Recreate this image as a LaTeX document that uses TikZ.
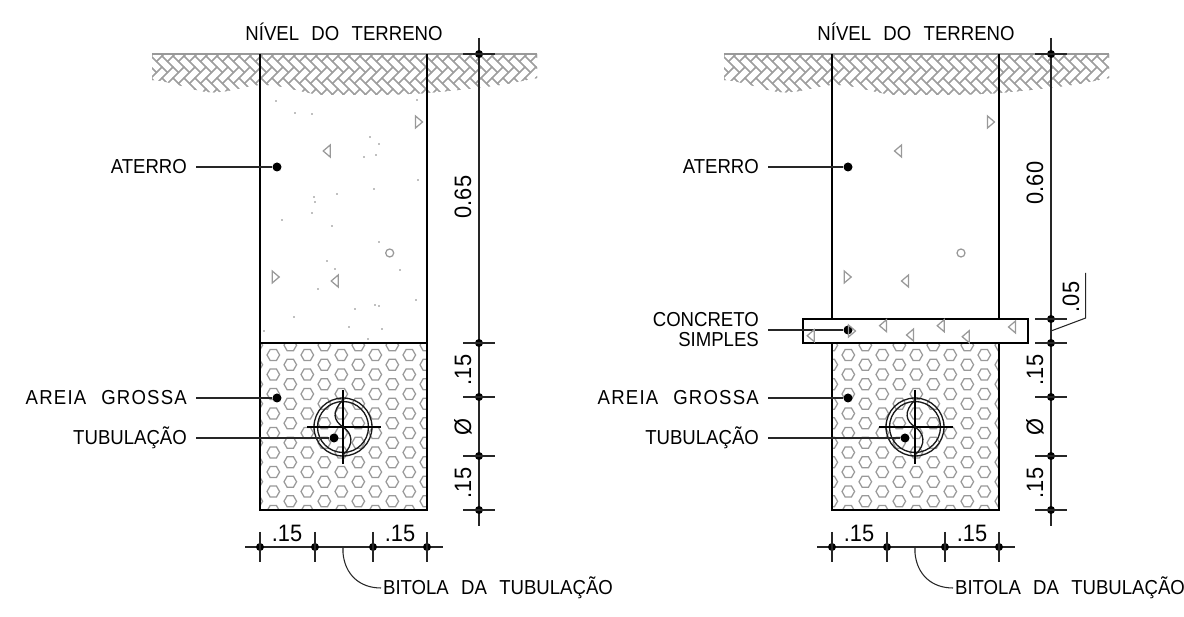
\documentclass[tikz,border=0pt]{standalone}
\usepackage{fontspec}
\setmainfont[FakeStretch=0.92]{Liberation Sans}
\usepackage{tikz}

\newcommand{\wgap}{\hspace{7pt}}
\newcommand{\areiatext}{\addfontfeatures{LetterSpace=6}AREIA\hspace{8.5pt}GROSSA}

\tikzset{
  wall/.style={line width=1.1pt,black},
  thin line/.style={line width=0.6pt,black!85},
  pipe line/.style={line width=0.75pt,black!90},
  fillmark/.style={line width=0.7pt,black!40},
  hatchmark/.style={line width=0.7pt,black!38},
  dotmark/.style={circle,fill=black,inner sep=0pt,minimum size=0.18cm},
  smalldot/.style={circle,fill=black,inner sep=0pt,minimum size=0.16cm},
  lbl/.style={inner xsep=5pt,inner ysep=0pt,font=\fontsize{11.5}{13}\selectfont},
  dimtext/.style={inner sep=0pt,font=\fontsize{13.5}{15}\selectfont},
}

% hatch of the ground, clipped by its wavy lower edge
\newcommand{\groundhatch}{
\begin{scope}
\clip (152,54) -- (152,80) .. controls (175,82) and (190,90) .. (207,92)
  .. controls (225,94) and (245,86) .. (260,85) .. controls (285,84) and (305,95) .. (327,95)
  .. controls (360,95) and (400,95) .. (427,93) .. controls (450,91) and (480,88) .. (500,85)
  .. controls (515,83) and (525,80) .. (537,78) -- (537,54) -- cycle;
\foreach \row in {0,...,4} {
\foreach \col in {0,...,38} {
  \pgfmathsetmacro\bx{140+11*\col}
  \pgfmathsetmacro\by{56+22*\row}
  \draw [hatchmark] (\bx,\by) -- ++(11,-11) -- ++(5.5,5.5) -- ++(-11,11) -- cycle;
  \draw [hatchmark] (\bx+5.5,\by+5.5) -- ++(5.5,-5.5) -- ++(11,11) -- ++(-5.5,5.5) -- cycle;
}}
\end{scope}
\draw [line width=0.9pt,black!40] (152,54) -- (537,54);
}

% hexagons of the sand bed
\newcommand{\sandhex}[1]{
\begin{scope}
\clip (260,343) rectangle (427,510);
\foreach \col in {0,...,10} {
\foreach \row in {0,...,8} {
  \pgfmathsetmacro\hx{256.3+#1+17*\col}
  \pgfmathsetmacro\hy{345.25+19.5*\row+9.75*mod(\col,2)}
  \draw [fillmark] (\hx-6.3,\hy) -- ++(3.1,-5.4) -- ++(6.4,0) -- ++(3.1,5.4) -- ++(-3.1,5.4) -- ++(-6.4,0) -- cycle;
}}
\end{scope}
}

% triangle of the fill, 1 points left and -1 points right
\newcommand{\filltri}[3]{
\draw [fillmark] (#1-3.5*#3,#2) -- ++(7*#3,-6) -- ++(0,12) -- cycle;
}

\newcommand{\pipe}{
\draw [pipe line] (343,427) circle [radius=29];
\draw [pipe line] (343,427) circle [radius=25.5];
\draw [wall] (307,427) -- (381,427);
\draw [wall] (343,390) -- (343,464);
\draw [pipe line] (343,400) .. controls (331,412) and (334,421) .. (343,427)
  .. controls (352,433) and (355,444) .. (343,455);
}

% dimension lines on the right and below
\newcommand{\dimbelow}{
\coordinate (bl) at (245,547);
\coordinate (br) at (443,547);
\draw [thin line] (bl) -- (br);
\foreach \nm/\tx in {ba/260,bb/315,bc/373,bd/427} {
  \node [smalldot] (\nm) at (\tx,547) {};
  \draw [thin line,line width=0.8pt] (\tx,532) -- (\tx,562);
}
\node [dimtext] (bwa) at (287,533) {.15};
\node [dimtext] (bwb) at (400,533) {.15};
\node [lbl,anchor=west,inner xsep=1pt] (bitola) at (381,588) {BITOLA\wgap DA\wgap TUBULAÇÃO};
\coordinate (bitstart) at (343,547);
\draw [thin line] (bitstart) -- (343,553) .. controls (345,575) and (360,588) .. (bitola.west);
}

\newcommand{\dimright}[1]{
\coordinate (dtop) at (479,38);
\coordinate (dend) at (479,526);
\draw [thin line] (dtop) -- (dend);
\foreach \nm/\ty in {#1} {
  \node [smalldot] (\nm) at (479,\ty) {};
  \draw [thin line,line width=0.8pt] (463,\ty) -- (495,\ty);
}
\node [dimtext,rotate=90] (dwa) at (463,370) {.15};
\node [dimtext,rotate=90] (dwb) at (463,427) {Ø};
\node [dimtext,rotate=90] (dwc) at (463,483) {.15};
}

\begin{document}
\begin{tikzpicture}[x=0.02cm,y=-0.02cm]
\useasboundingbox (0,0) rectangle (1184,617);
\fill [white] (0,0) rectangle (1184,617);

% left section
\groundhatch
\sandhex{0}
\draw [wall] (260,54) -- (260,510) -- (427,510) -- (427,54);
\draw [wall] (260,343) -- (427,343);
\pipe
\node [lbl] (nivel) at (344,32) {NÍVEL\wgap DO\wgap TERRENO};
\node [dotmark] (aterro) at (277,167) {};
\node [dotmark] (areia) at (277,398) {};
\node [dotmark] (tubo) at (334,438) {};
\node [lbl,anchor=east] (aterrotxt) at (196,167) {ATERRO};
\node [lbl,anchor=east] (areiatxt) at (196,398) {\areiatext};
\node [lbl,anchor=east] (tubotxt) at (196,438) {TUBULAÇÃO};
\draw [thin line] (aterrotxt) -- (aterro);
\draw [thin line] (areiatxt) -- (areia);
\draw [thin line] (tubotxt) -- (tubo);
\dimright{da/54,db/343,dc/397,dd/456,de/510}
\node [dimtext,rotate=90] (dwtop) at (463,197) {0.65};
\dimbelow
\filltri{326.7}{151}{1}
\filltri{419}{122}{-1}
\filltri{275.7}{277}{-1}
\filltri{334.7}{281}{1}
\draw [fillmark] (389.7,253) circle [radius=4];
\foreach \px/\py in {276/101,295/113,312/114,370/137,379/144,364/157,376/155,417/100,418/180,374/189,337/194,314/197,315/202,312/213,282/220,332/226,379/242,327/261,335/269,318/289,400/270,416/300,355/309,375/305,379/306,294/317,264/331,349/327,382/329,368/339}
  \fill [black!50] (\px,\py) circle [radius=0.8];

% right section
\begin{scope}[shift={(572,0)}]
\groundhatch
\sandhex{3}
\draw [wall] (260,54) -- (260,319);
\draw [wall] (427,54) -- (427,319);
\draw [wall] (260,343) -- (260,510) -- (427,510) -- (427,343);
\fill [white] (231,319) rectangle (456,343);
\draw [wall] (231,319) rectangle (456,343);
\pipe
\node [lbl] (nivelb) at (344,32) {NÍVEL\wgap DO\wgap TERRENO};
\node [dotmark] (aterrob) at (276,167) {};
\node [dotmark] (concreto) at (276,330) {};
\node [dotmark] (areiab) at (276,398) {};
\node [dotmark] (tubob) at (333,438) {};
\node [lbl,anchor=east] (aterrotxtb) at (196,167) {ATERRO};
\node [lbl,anchor=east,align=right] (concretotxt) at (196,330) {CONCRETO\\[-1.6pt]SIMPLES};
\node [lbl,anchor=east] (areiatxtb) at (196,398) {\areiatext};
\node [lbl,anchor=east] (tubotxtb) at (196,438) {TUBULAÇÃO};
\draw [thin line] (aterrotxtb) -- (aterrob);
\draw [thin line] (concretotxt) -- (concreto);
\draw [thin line] (areiatxtb) -- (areiab);
\draw [thin line] (tubotxtb) -- (tubob);
\dimright{da/54,dx/319,db/343,dc/397,dd/456,de/510}
\node [dimtext,rotate=90] (dwtop) at (463,183) {0.60};
\node [dimtext,rotate=90] (dwsl) at (499,297) {.05};
\coordinate (slbend) at (513.7,318);
\coordinate (sltop) at (513.7,273);
\coordinate (slfoot) at (479,331);
\draw [thin line] (slfoot) -- (slbend) -- (sltop);
\dimbelow
\filltri{326}{151}{1}
\filltri{419}{122}{-1}
\filltri{275.7}{277}{-1}
\filltri{333}{281}{1}
\draw [fillmark] (389,253) circle [radius=4];
\filltri{238.7}{335.7}{1}
\filltri{280}{331}{-1}
\filltri{311}{325.7}{1}
\filltri{338}{335}{1}
\filltri{368.7}{325.7}{1}
\filltri{393.7}{336.7}{1}
\filltri{440}{327}{1}
\end{scope}
\end{tikzpicture}
\end{document}
